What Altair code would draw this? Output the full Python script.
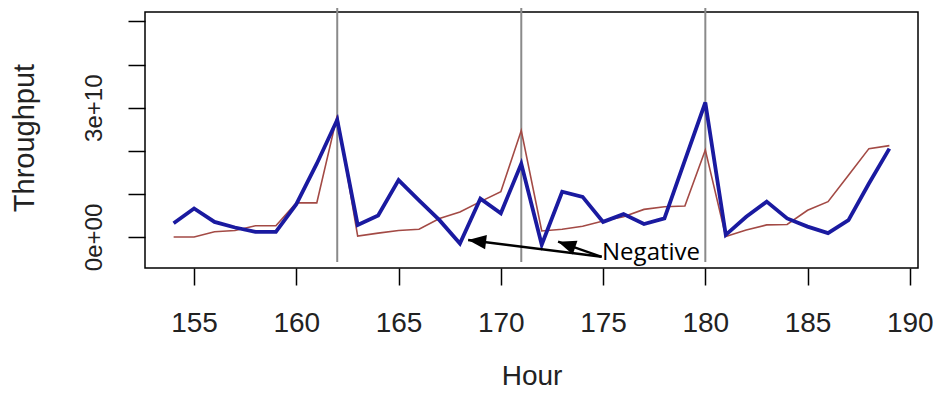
import altair as alt
import pandas as pd

# ---- data ----
hours = list(range(154, 190))
blue_vals = [3.2e9, 6.6e9, 3.5e9, 2.2e9, 1.2e9, 1.2e9, 7.6e9, 1.70e10, 2.72e10, 2.8e9,
             5.0e9, 1.32e10, 8.5e9, 3.9e9, -1.5e9, 8.9e9, 5.5e9, 1.70e10, -1.8e9, 1.05e10,
             9.3e9, 3.5e9, 5.3e9, 3.0e9, 4.3e9, 1.78e10, 3.12e10, 5.0e8, 4.7e9, 8.2e9,
             4.3e9, 2.4e9, 9.0e8, 3.9e9, 1.24e10, 2.05e10]
red_vals = [0.0, 0.0, 1.2e9, 1.5e9, 2.6e9, 2.6e9, 7.9e9, 7.9e9, 2.82e10, 2.0e8,
            9.0e8, 1.5e9, 1.8e9, 4.3e9, 5.8e9, 8.2e9, 1.05e10, 2.47e10, 1.4e9, 1.8e9,
            2.5e9, 3.7e9, 4.7e9, 6.4e9, 7.0e9, 7.2e9, 2.02e10, 1.0e8, 1.6e9, 2.8e9,
            2.9e9, 6.2e9, 8.2e9, 1.43e10, 2.05e10, 2.12e10]
vline_hours = [162, 171, 180]
x_ticks = [155, 160, 165, 170, 175, 180, 185, 190]
y_ticks = [0, 1e10, 2e10, 3e10, 4e10, 5e10]
x_domain = [152.6, 190.4]
y_domain = [-0.72e10, 5.22e10]

note_text = ["Negative"]
note_hour = [174.95]
note_val = [-0.53e10]
arrow_ids = ["a1", "a2"]
arrow_tail_hour = [174.93, 174.93]
arrow_tail_val = [-0.46e10, -0.46e10]
arrow_tip_hour = [168.4, 172.8]
arrow_tip_val = [-0.07e10, -0.11e10]
arrow_angle = [277, 289]

# ---- tables ----
red_df = pd.DataFrame({"hour": hours, "value": red_vals})
blue_df = pd.DataFrame({"hour": hours, "value": blue_vals})
vline_df = pd.DataFrame({"hour": vline_hours})
note_df = pd.DataFrame({"hour": note_hour, "value": note_val, "text": note_text})
arrow_line_df = pd.DataFrame({
    "id": arrow_ids + arrow_ids,
    "hour": arrow_tail_hour + arrow_tip_hour,
    "value": arrow_tail_val + arrow_tip_val,
})
arrow_head_df = pd.DataFrame({"hour": arrow_tip_hour, "value": arrow_tip_val, "angle": arrow_angle})

FONT = "Liberation Sans"
TXT = "#222222"

x_axis = alt.Axis(
    values=x_ticks, tickSize=17, tickWidth=1.5, tickColor="black", domain=False, grid=False,
    labelFont=FONT, labelFontSize=28, labelColor=TXT, labelPadding=24,
    labelFlush=False, labelOverlap=False, labelBound=False,
    title="Hour", titleFont=FONT, titleFontSize=28, titleFontWeight="normal", titleColor=TXT,
    titleY=116, titleBaseline="alphabetic",
)
y_axis = alt.Axis(
    values=y_ticks, tickSize=17, tickWidth=1.5, tickColor="black", domain=False, grid=False,
    labelExpr="datum.value == 0 ? '0e+00' : (datum.value == 30000000000 ? '3e+10' : '')",
    labelFont=FONT, labelFontSize=24, labelColor=TXT, labelPadding=22,
    labelAngle=270, labelAlign="center", labelBaseline="bottom",
    labelFlush=False, labelOverlap=False, labelBound=False,
    title="Throughput", titleFont=FONT, titleFontSize=29, titleFontWeight="normal", titleColor=TXT,
    titleAngle=270, titleX=-112, titleY=125.5, titleAlign="center", titleBaseline="alphabetic",
)

xs = alt.Scale(domain=x_domain, nice=False, zero=False)
ys = alt.Scale(domain=y_domain, nice=False, zero=False)

def X():
    return alt.X("hour:Q", scale=xs, axis=x_axis)

def Y():
    return alt.Y("value:Q", scale=ys, axis=y_axis)

vlines = alt.Chart(vline_df).mark_rule(color="#8a8a8a", strokeWidth=2).encode(
    x=X(), y=alt.value(-4), y2=alt.value(250)
)
red = alt.Chart(red_df).mark_line(color="#a34a45", strokeWidth=1.6).encode(x=X(), y=Y())
blue = alt.Chart(blue_df).mark_line(color="#1a1aa0", strokeWidth=3.8).encode(x=X(), y=Y())
arrows = alt.Chart(arrow_line_df).mark_line(color="black", strokeWidth=2.4).encode(
    x=X(), y=Y(), detail="id:N"
)
heads = alt.Chart(arrow_head_df).mark_point(
    shape="M0,0 L-0.8,2 L0.8,2 Z", filled=True, size=324, color="black", opacity=1, strokeWidth=0
).encode(x=X(), y=Y(), angle=alt.Angle("angle:Q", scale=None))
note = alt.Chart(note_df).mark_text(
    align="left", baseline="alphabetic", font="Open Sans", fontSize=24, color="black"
).encode(x=X(), y=Y(), text="text:N")

chart = alt.layer(vlines, red, blue, arrows, heads, note).properties(
    width=773, height=256,
    autosize=alt.AutoSizeParams(type="none"),
    padding={"left": 137, "top": 4, "right": 15, "bottom": 135},
    background="white",
).configure_view(stroke="black", strokeWidth=1.5)

chart.save("out.html", embed_options={"renderer": "svg", "actions": False})
